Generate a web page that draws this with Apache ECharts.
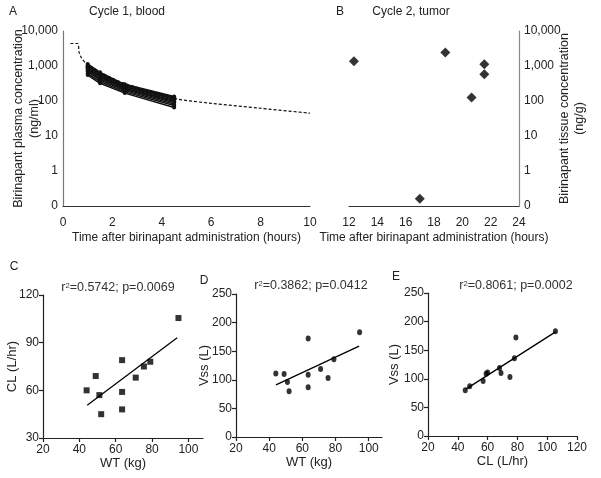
<!DOCTYPE html>
<html><head><meta charset="utf-8">
<script src="https://cdn.jsdelivr.net/npm/echarts@6/dist/echarts.min.js"></script>
<style>html,body{margin:0;padding:0;background:#fff}#c{width:601px;height:478px}</style>
</head><body><div id="c"></div>
<script>
// ---- Panel A: cycle 1, blood ----
const bloodTimes = [1, 1.5, 2.5, 4.5];
const bloodConc = [
  [1150, 660, 300, 135],
  [1050, 610, 285, 128],
  [980, 580, 270, 120],
  [920, 540, 255, 112],
  [860, 500, 240, 104],
  [800, 470, 228, 97],
  [740, 430, 212, 90],
  [680, 400, 198, 82],
  [610, 360, 182, 74],
  [550, 320, 168, 65]
];
const modelTime = [0.3, 0.6, 0.65, 0.75, 0.9, 1.2, 1.5, 2, 2.5, 3.5, 4.6, 6, 8, 10];
const modelConc = [4400, 4400, 2500, 1700, 1250, 900, 680, 450, 320, 190, 115, 86, 62, 45];
// ---- Panel B: cycle 2, tumor ----
const tumorTime = [12.35, 17.0, 18.8, 20.65, 21.55, 21.55];
const tumorConc = [1370, 0.16, 2420, 126, 1120, 583];
// ---- Panels C-E ----
const wt  = [44, 49, 51, 52, 63.5, 63.5, 63.5, 71, 75.5, 79, 94.5];
const cl  = [60, 69, 57, 45, 79, 59, 48, 68, 75, 78, 105.5];
const vss = [111, 110, 96, 80, 172, 109, 87, 119, 103, 136, 183];
const fitClWt  = [[44.3, 50.6], [93.8, 93.1]];
const fitVssWt = [[44.1, 91], [94.2, 158.8]];
const fitVssCl = [[45.4, 82], [105.6, 182]];
const ticksTimeA = [0, 2, 4, 6, 8, 10];
const ticksTimeB = [12, 14, 16, 18, 20, 22, 24];
const ticksWt = [20, 40, 60, 80, 100];
const ticksCl = [20, 40, 60, 80, 100, 120];
const statsC = '0.5742; p=0.0069';
const statsD = '0.3862; p=0.0412';
const statsE = '0.8061; p=0.0002';

const FONT = '"Liberation Sans", Arial, sans-serif';
const TXT = '#222';
const zip = (a, b) => a.map((v, i) => [v, b[i]]);
const logFmt = v => v < 1 ? '0' : Number(v).toLocaleString('en-US');

function valAxis(o) {
  return Object.assign({
    type: 'value',
    splitLine: {show: false},
    axisLine: {show: true, onZero: false, lineStyle: {color: '#222', width: 1.2}},
    axisTick: {show: true, length: 4, lineStyle: {color: '#222', width: 1.2}},
    axisLabel: {color: TXT, fontSize: 12, fontFamily: FONT, margin: 4},
    nameTextStyle: {color: TXT, fontSize: 13, fontFamily: FONT},
    nameLocation: 'middle',
    nameMoveOverlap: false
  }, o);
}

const series = [];
series.push({
  type: 'line', xAxisIndex: 0, yAxisIndex: 0, data: zip(modelTime, modelConc),
  showSymbol: false, smooth: 0.3, silent: true,
  lineStyle: {color: '#111', width: 1.2, type: [3, 2]}
});
bloodConc.forEach(arr => series.push({
  type: 'line', xAxisIndex: 0, yAxisIndex: 0, data: zip(bloodTimes, arr),
  symbol: 'circle', symbolSize: 4, itemStyle: {color: '#111'},
  lineStyle: {color: '#111', width: 1.5}
}));
series.push({type: 'scatter', xAxisIndex: 1, yAxisIndex: 1, data: zip(tumorTime, tumorConc),
  symbol: 'diamond', symbolSize: 10, itemStyle: {color: '#000'}});
series.push({type: 'scatter', xAxisIndex: 2, yAxisIndex: 2, data: zip(wt, cl),
  symbol: 'rect', symbolSize: 6, itemStyle: {color: '#000'}});
series.push({type: 'line', xAxisIndex: 2, yAxisIndex: 2, data: fitClWt, showSymbol: false,
  lineStyle: {color: '#000', width: 1.3}});
series.push({type: 'scatter', xAxisIndex: 3, yAxisIndex: 3, data: zip(wt, vss),
  symbol: 'circle', symbolSize: [5, 6], itemStyle: {color: '#000'}});
series.push({type: 'line', xAxisIndex: 3, yAxisIndex: 3, data: fitVssWt, showSymbol: false,
  lineStyle: {color: '#000', width: 1.3}});
series.push({type: 'scatter', xAxisIndex: 4, yAxisIndex: 4, data: zip(cl, vss),
  symbol: 'circle', symbolSize: [5, 6], itemStyle: {color: '#000'}});
series.push({type: 'line', xAxisIndex: 4, yAxisIndex: 4, data: fitVssCl, showSymbol: false,
  lineStyle: {color: '#000', width: 1.3}});

function txt(x, y, text, size, extra) {
  return {type: 'text', x: x, y: y, silent: true, style: Object.assign({
    text: text, fill: TXT, fontSize: size, fontFamily: FONT, align: 'center', verticalAlign: 'middle'
  }, extra || {})};
}
function stat(x, y, s) {
  return txt(x, y, 'r{s|2}=' + s, 12.5, {fill: '#333', rich: {s: {fontSize: 7.5, verticalAlign: 'top', fill: '#333', fontFamily: FONT}}});
}

const option = {
  animation: false,
  backgroundColor: '#fff',
  grid: [
    {left: 63, top: 31, width: 247, height: 175, containLabel: false, outerBoundsMode: 'none'},
    {left: 349, top: 31, width: 170, height: 175, containLabel: false, outerBoundsMode: 'none'},
    {left: 43, top: 295, width: 160, height: 143, containLabel: false, outerBoundsMode: 'none'},
    {left: 236, top: 294, width: 146, height: 143, containLabel: false, outerBoundsMode: 'none'},
    {left: 428, top: 293, width: 149, height: 143, containLabel: false, outerBoundsMode: 'none'}
  ],
  xAxis: [
    valAxis({gridIndex: 0, min: 0, max: 10, axisTick: {show: false},
      axisLine: {show: true, lineStyle: {color: '#333', width: 1.2}},
      axisLabel: {color: TXT, fontSize: 12, fontFamily: FONT, margin: 11, customValues: ticksTimeA},
      name: 'Time after birinapant administration (hours)', nameGap: 26,
      nameTextStyle: {color: TXT, fontSize: 12, fontFamily: FONT}}),
    valAxis({gridIndex: 1, min: 12, max: 24, axisTick: {show: false},
      axisLine: {show: true, lineStyle: {color: '#333', width: 1.2}},
      axisLabel: {color: TXT, fontSize: 12, fontFamily: FONT, margin: 11, customValues: ticksTimeB},
      name: 'Time after birinapant administration (hours)', nameGap: 26,
      nameTextStyle: {color: TXT, fontSize: 12, fontFamily: FONT}}),
    valAxis({gridIndex: 2, min: 20, max: 108,
      axisTick: {show: true, length: 4, lineStyle: {color: '#222', width: 1.2}, customValues: ticksWt},
      axisLabel: {color: TXT, fontSize: 12, fontFamily: FONT, margin: 6, customValues: ticksWt},
      name: 'WT (kg)', nameGap: 19}),
    valAxis({gridIndex: 3, min: 20, max: 108,
      axisTick: {show: true, length: 4, lineStyle: {color: '#222', width: 1.2}, customValues: ticksWt},
      axisLabel: {color: TXT, fontSize: 12, fontFamily: FONT, margin: 6, customValues: ticksWt},
      name: 'WT (kg)', nameGap: 19}),
    valAxis({gridIndex: 4, min: 20, max: 120,
      axisTick: {show: true, length: 4, lineStyle: {color: '#222', width: 1.2}, customValues: ticksCl},
      axisLabel: {color: TXT, fontSize: 12, fontFamily: FONT, margin: 6, customValues: ticksCl},
      name: 'CL (L/hr)', nameGap: 19})
  ],
  yAxis: [
    {type: 'log', logBase: 10, gridIndex: 0, min: 0.1, max: 10000, splitNumber: 5,
      splitLine: {show: false}, axisTick: {show: false},
      axisLine: {show: true, lineStyle: {color: '#777', width: 1.2}},
      axisLabel: {color: TXT, fontSize: 12, fontFamily: FONT, margin: 5, formatter: logFmt},
      name: 'Birinapant plasma concentration\n(ng/ml)', nameLocation: 'middle', nameGap: 20,
      nameMoveOverlap: false,
      nameTextStyle: {color: TXT, fontSize: 12.5, fontFamily: FONT, lineHeight: 16}},
    {type: 'log', logBase: 10, gridIndex: 1, position: 'right', min: 0.1, max: 10000, splitNumber: 5,
      splitLine: {show: false}, axisTick: {show: false},
      axisLine: {show: true, lineStyle: {color: '#888', width: 1.2}},
      axisLabel: {color: TXT, fontSize: 12, fontFamily: FONT, margin: 5, formatter: logFmt},
      name: 'Birinapant tissue concentration\n(ng/g)', nameLocation: 'middle', nameGap: 38, nameRotate: 90,
      nameMoveOverlap: false,
      nameTextStyle: {color: TXT, fontSize: 12.5, fontFamily: FONT, lineHeight: 15}},
    valAxis({gridIndex: 2, min: 30, max: 120, interval: 30, name: 'CL (L/hr)', nameGap: 24}),
    valAxis({gridIndex: 3, min: 0, max: 250, interval: 50, name: 'Vss (L)', nameGap: 25}),
    valAxis({gridIndex: 4, min: 0, max: 250, interval: 50, name: 'Vss (L)', nameGap: 27})
  ],
  graphic: [
    txt(13, 12, 'A', 12),
    txt(127, 12, 'Cycle 1, blood', 12),
    txt(340, 12, 'B', 12),
    txt(411, 12, 'Cycle 2, tumor', 12),
    txt(14, 267, 'C', 12),
    txt(204, 281, 'D', 12),
    txt(396, 277, 'E', 12),
    stat(118, 288, statsC),
    stat(311, 286, statsD),
    stat(516, 286, statsE)
  ],
  series: series
};
const chart = echarts.init(document.getElementById('c'), null, {renderer: 'canvas'});
chart.setOption(option);
</script></body></html>
